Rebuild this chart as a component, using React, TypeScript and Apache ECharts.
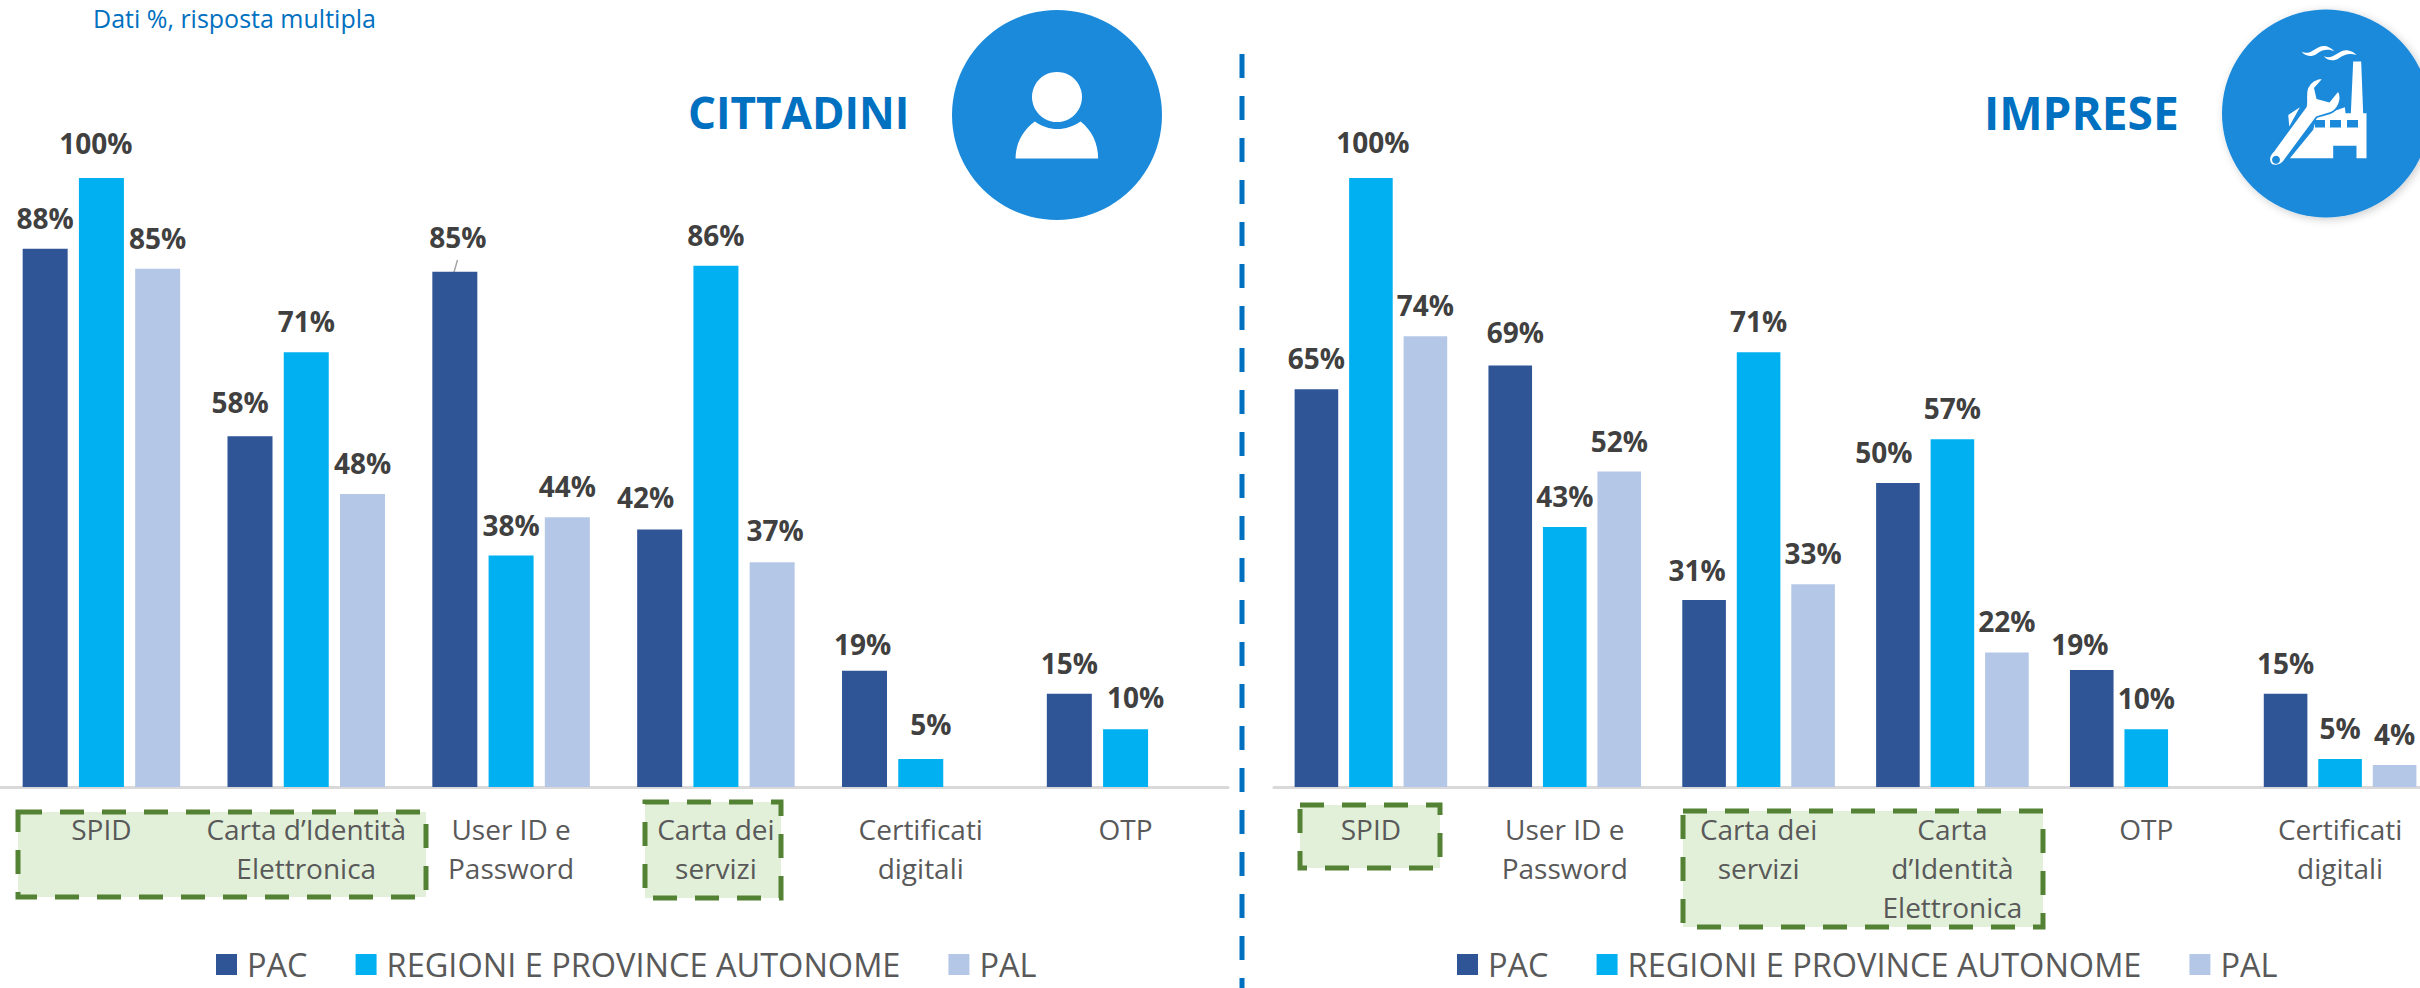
import React, { useEffect, useRef } from "react";
import * as echarts from "echarts";

const leftCategories = ["SPID", "Carta d’Identità\nElettronica", "User ID e\nPassword", "Carta dei\nservizi", "Certificati\ndigitali", "OTP"];
const leftPac = [88.4, 57.6, 84.6, 42.3, 19.1, 15.3];
const leftReg = [100, 71.4, 38.0, 85.6, 4.6, 9.5];
const leftPal = [85.1, 48.1, 44.3, 36.9, null, null];

const rightCategories = ["SPID", "User ID e\nPassword", "Carta dei\nservizi", "Carta\nd’Identità\nElettronica", "OTP", "Certificati\ndigitali"];
const rightPac = [65.3, 69.2, 30.7, 49.9, 19.2, 15.3];
const rightReg = [100, 42.7, 71.4, 57.1, 9.5, 4.6];
const rightPal = [74, 51.8, 33.3, 22.1, null, 3.6];

const seriesNames = ["PAC", "REGIONI E PROVINCE AUTONOME", "PAL"];
const seriesColors = ["#2F5597", "#00B0F0", "#B4C7E7"];

// Hand-placed data labels: "chart:series:category" -> [dx, dy] from the default spot above the bar
const labelNudges: Record<string, number[]> = {
  "0:1:0": [-5.5, -4],
  "0:0:1": [-10, -3],
  "0:0:2": [3, -4],
  "0:0:3": [-14, -1],
  "0:2:3": [3, -1],
  "0:0:4": [-2, 4],
  "0:1:4": [10, -4],
  "0:1:5": [10, -1],
  "1:1:0": [2, -5],
  "1:0:1": [5, -3],
  "1:0:2": [-7, 1],
  "1:0:3": [-14, 0],
  "1:0:4": [-12, 5],
};

const FONT = "'Open Sans', sans-serif";
const BLUE = "#0070C0";
const CIRCLE = "#1C8ADB";

const BODY = "M287 476 C287 430 310 390 345 365 C385 395 440 395 482 365 C515 390 535 430 535 476 Z";
const FACTORY = "M460 185 L484 185 L490 340 L500 340 L500 475 L470 475 L470 438 L400 438 L400 475 L270 475 L340 390 L350 352 L435 322 L437 340 L453 340 Z M265 345 L300 322 L268 380 Z";
const WRENCH = "M208 478 C208 465 215 458 222 452 L318 320 C322 300 316 285 322 265 C330 245 350 235 372 234 L345 265 L352 295 L388 305 L415 272 C428 290 420 320 400 335 C385 345 365 345 350 352 L250 487 C240 497 225 500 215 495 C210 490 208 485 208 478 Z";
const SMOKE = "M305 155 C330 170 350 135 375 138 C390 140 400 150 405 155 C385 145 365 150 350 162 C335 172 315 170 305 155 Z M372 168 C397 183 417 148 442 151 C455 152 465 160 470 165 C450 158 432 163 417 175 C402 185 382 183 372 168 Z";

echarts.graphic.registerShape("personBody", echarts.graphic.extendPath(BODY, {}));
echarts.graphic.registerShape("factory", echarts.graphic.extendPath(FACTORY, {}));
echarts.graphic.registerShape("wrench", echarts.graphic.extendPath(WRENCH, {}));
echarts.graphic.registerShape("smoke", echarts.graphic.extendPath(SMOKE, {}));

function makeSeries(axis: number, values: (number | null)[][], barWidth: number) {
  return values.map((data, i) => ({
    type: "bar",
    name: seriesNames[i],
    xAxisIndex: axis,
    yAxisIndex: axis,
    data: data.map((value, c) => {
      const nudge = labelNudges[`${axis}:${i}:${c}`];
      return nudge ? { value, label: { offset: nudge } } : { value };
    }),
    barWidth,
    barGap: "25%",
    itemStyle: { color: seriesColors[i] },
    label: {
      show: true,
      position: "top",
      distance: 17,
      formatter: (p: any) => `${Math.round(p.value)}%`,
      color: "#404040",
      fontFamily: FONT,
      fontWeight: "bold",
      fontSize: 28,
    },
  }));
}

function box(x: number, y: number, w: number, h: number) {
  return {
    type: "rect",
    z: -1,
    shape: { x, y, width: w, height: h },
    style: { fill: "#E2F0D9", stroke: "#548235", lineWidth: 5, lineDash: [24, 18] },
  };
}

function legend(left: number) {
  return {
    left,
    top: 948,
    padding: 0,
    icon: "rect",
    itemWidth: 21,
    itemHeight: 21,
    itemGap: 48,
    selectedMode: false,
    data: seriesNames,
    textStyle: { color: "#595959", fontFamily: FONT, fontSize: 32.5, lineHeight: 28, padding: [0, 0, 0, 5] },
  };
}

function xAxis(gridIndex: number, data: string[]) {
  return {
    type: "category",
    gridIndex,
    data,
    axisTick: { show: false },
    axisLine: { lineStyle: { color: "#D9D9D9", width: 3 } },
    axisLabel: { interval: 0, color: "#595959", fontFamily: FONT, fontSize: 28, lineHeight: 39, margin: 22 },
  };
}

function yAxis(gridIndex: number) {
  return { type: "value", gridIndex, min: 0, max: 100, show: false, splitLine: { show: false } };
}

export default function App() {
  const ref = useRef<HTMLDivElement>(null);
  useEffect(() => {
    document.body.style.margin = "0";
    const chart = echarts.init(ref.current!, null, { renderer: "svg" });
    chart.setOption({
      animation: false,
      backgroundColor: "#FFFFFF",
      grid: [
        { left: -1, width: 1229, top: 178, height: 609, outerBoundsMode: "none" },
        { left: 1274, width: 1163, top: 178, height: 609, outerBoundsMode: "none" },
      ],
      xAxis: [xAxis(0, leftCategories), xAxis(1, rightCategories)],
      yAxis: [yAxis(0), yAxis(1)],
      legend: [legend(216), legend(1457)],
      series: [
        ...makeSeries(0, [leftPac, leftReg, leftPal], 45),
        ...makeSeries(1, [rightPac, rightReg, rightPal], 43.6),
      ],
      graphic: [
        box(18, 812, 408, 85),
        box(645, 802, 136, 96),
        box(1300, 805, 140, 63),
        box(1683, 811, 360, 116),
        {
          type: "line",
          shape: { x1: 1242, y1: 54, x2: 1242, y2: 988 },
          style: { stroke: BLUE, lineWidth: 5, lineDash: [24, 18] },
        },
        { type: "line", shape: { x1: 457.5, y1: 260, x2: 454, y2: 272 }, style: { stroke: "#A6A6A6", lineWidth: 1.5 } },
        { type: "text", x: 93, y: 18, style: { text: "Dati %, risposta multipla", fill: BLUE, font: `25px ${FONT}`, textVerticalAlign: "middle" } },
        { type: "text", x: 688, y: 112, style: { text: "CITTADINI", fill: BLUE, font: `bold 44px ${FONT}`, textVerticalAlign: "middle" } },
        { type: "text", x: 1984, y: 112, style: { text: "IMPRESE", fill: BLUE, font: `bold 46px ${FONT}`, textVerticalAlign: "middle" } },
        { type: "circle", shape: { cx: 1057, cy: 115, r: 105 }, style: { fill: CIRCLE } },
        { type: "circle", shape: { cx: 1057, cy: 97, r: 25 }, style: { fill: "#FFFFFF" } },
        { type: "personBody", x: 920, y: 0, scaleX: 1 / 3, scaleY: 1 / 3, style: { fill: "#FFFFFF" } },
        { type: "circle", shape: { cx: 2326, cy: 113.5, r: 104 }, style: { fill: CIRCLE, shadowBlur: 8, shadowColor: "rgba(0,0,0,0.2)", shadowOffsetX: 2, shadowOffsetY: 2 } },
        { type: "factory", x: 2200, y: 0, scaleX: 1 / 3, scaleY: 1 / 3, style: { fill: "#FFFFFF" } },
        { type: "rect", shape: { x: 2315, y: 120, width: 10, height: 7.5 }, style: { fill: CIRCLE } },
        { type: "rect", shape: { x: 2330, y: 120, width: 11, height: 7.5 }, style: { fill: CIRCLE } },
        { type: "rect", shape: { x: 2347, y: 120, width: 11, height: 7.5 }, style: { fill: CIRCLE } },
        { type: "wrench", x: 2200, y: 0, scaleX: 1 / 3, scaleY: 1 / 3, style: { fill: "#FFFFFF", stroke: CIRCLE, lineWidth: 5 } },
        { type: "circle", shape: { cx: 2276, cy: 159.7, r: 4 }, style: { fill: CIRCLE } },
        { type: "smoke", x: 2200, y: 0, scaleX: 1 / 3, scaleY: 1 / 3, style: { fill: "#FFFFFF" } },
      ],
    });
    return () => chart.dispose();
  }, []);
  return <div ref={ref} style={{ position: "absolute", left: 0, top: 0, width: 2420, height: 988 }} />;
}
